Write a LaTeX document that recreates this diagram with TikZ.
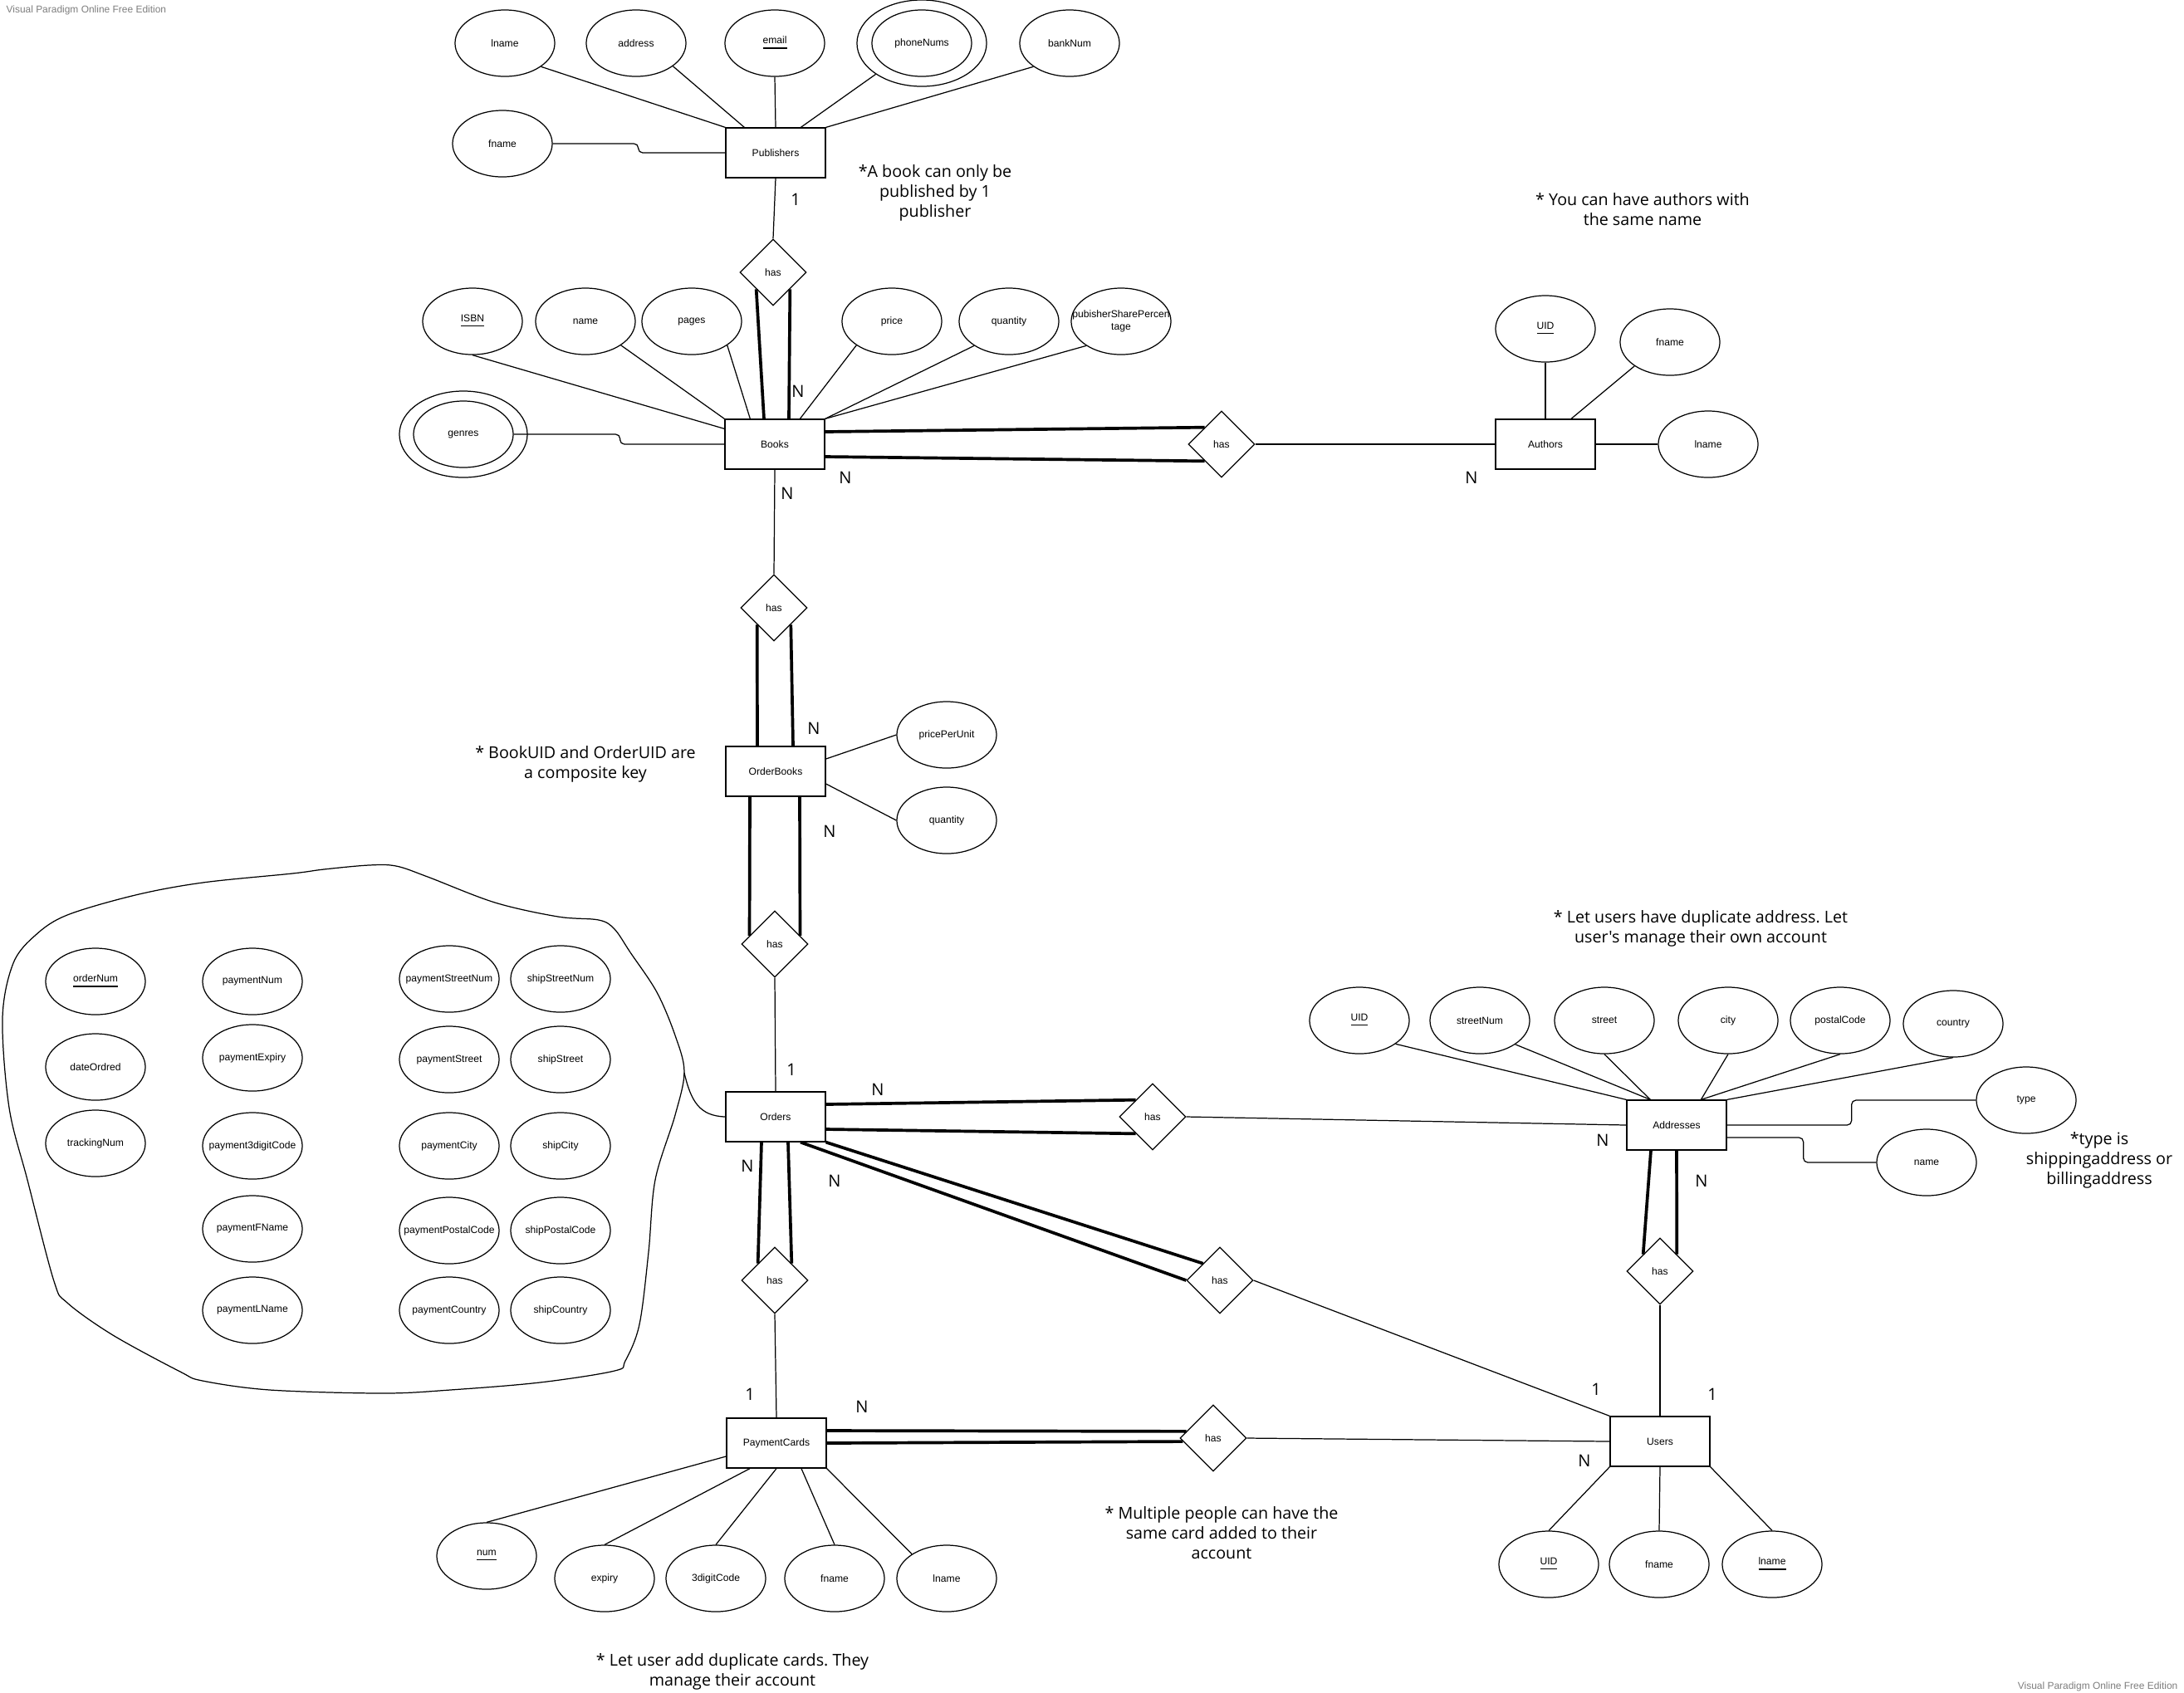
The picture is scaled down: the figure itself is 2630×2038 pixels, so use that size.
\documentclass[tikz,border=0pt]{standalone}
\usepackage{fontspec}
\setmainfont{Liberation Sans}
\newfontfamily\notefont{Open Sans}
\usetikzlibrary{shapes.geometric,calc}
\definecolor{wmgray}{HTML}{7F7F7F}
\frenchspacing
% keeps every attribute ellipse at its fixed size, whatever the label length
\newcommand{\fitlabel}[1]{\makebox[0pt]{#1}}

\begin{document}
\begin{tikzpicture}[x=0.01cm,y=-0.01cm,
  line width=0.35pt,
  lbl/.style={font=\fontsize{3.45}{4.2}\selectfont},
  entity/.style={draw,rectangle,minimum width=1.2cm,minimum height=0.6cm,inner sep=0pt,lbl},
  attr/.style={draw,ellipse,minimum width=1.2cm,minimum height=0.8cm,inner sep=0pt,lbl,align=center},
  multi/.style={draw,ellipse,minimum width=1.56cm,minimum height=1.04cm,inner sep=0pt},
  rel/.style={draw,diamond,minimum width=0.8cm,minimum height=0.8cm,inner sep=0pt,lbl},
  total/.style={line width=1.05pt},
  card/.style={font=\notefont\fontsize{5.7}{6.8}\selectfont,inner sep=0pt},
  note/.style={font=\notefont\fontsize{5.6}{6.8}\selectfont,align=center,inner sep=0pt},
  wm/.style={font=\fontsize{3.4}{4}\selectfont,text=wmgray,inner sep=0pt}
]
\useasboundingbox[fill=white] (0,0) rectangle (2630,2038);

% ---------- Publishers ----------
\node[entity] (pub) at (934,184) {Publishers};
\node[attr] (plname) at (608,52) {\fitlabel{lname}};
\node[attr] (paddr) at (766,52) {\fitlabel{address}};
\node[attr] (pemail) at (933,52) {\fitlabel{\underline{email}}};
\node[multi] (pphone) at (1110,52) {};
\node[attr] (pphonein) at (1110,52) {\fitlabel{phoneNums}};
\node[attr] (pbank) at (1288,52) {\fitlabel{bankNum}};
\node[attr] (pfname) at (605,173) {\fitlabel{fname}};

\draw (plname.-33) -- (pub.north west);
\draw (paddr.-32) -- ($(pub.north west)+(23,0)$);
\draw (pemail.south) -- (pub.north);
\draw (pphone.-146) -- ($(pub.north west)+(91,0)$);
\draw (pbank.-147) -- (pub.north east);
\draw[rounded corners=1.5pt] (pfname.east) -- ++(103,0) |- (pub.west);

% ---------- Books ----------
\node[rel] (has1) at (931,328) {has};
\node[entity] (books) at (933,535) {Books};
\node[attr] (isbn) at (569,387) {\fitlabel{\underline{ISBN}}};
\node[attr] (bname) at (705,387) {\fitlabel{name}};
\node[attr] (bpages) at (833,387) {\fitlabel{pages}};
\node[attr] (bprice) at (1074,387) {\fitlabel{price}};
\node[attr] (bqty) at (1215,387) {\fitlabel{quantity}};
\node[attr] (bshare) at (1350,387) {\fitlabel{\begin{tabular}{@{}c@{}}pubisherSharePercen\\tage\end{tabular}}};
\node[multi,minimum width=1.54cm] (bgenres) at (558,523) {};
\node[attr] (bgenresin) at (558,523) {\fitlabel{genres}};

\draw (pub.south) -- (has1.north);
\draw[total] (has1.south west) -- ($(books.north)+(-13,0)$);
\draw[total] (has1.south east) -- ($(books.north)+(17,0)$);

\draw (isbn.south) -- ($(books.north west)+(0,12)$);
\draw (bname.-34) -- (books.north west);
\draw (bpages.-34) -- ($(books.north west)+(31,0)$);
\draw (bprice.-146) -- ($(books.north west)+(91,0)$);
\draw (bqty.-145) -- (books.north east);
\draw (bshare.-145) -- (books.north east);
\draw[rounded corners=1.5pt] (bgenresin.east) -- ++(128,0) |- (books.west);

% ---------- Authors ----------
\node[rel] (has2) at (1471,535) {has};
\node[entity] (authors) at (1861,535) {Authors};
\node[attr] (auid) at (1861,396) {\fitlabel{\underline{UID}}};
\node[attr] (afname) at (2011,412) {\fitlabel{fname}};
\node[attr] (alname) at (2057,535) {\fitlabel{lname}};

\draw[total] ($(books.east)+(0,-15)$) -- (has2.north west);
\draw[total] ($(books.east)+(0,15)$) -- (has2.south west);
\draw (has2.east) -- (authors.west);
\draw (auid.south) -- (authors.north);
\draw (afname.-146) -- ($(authors.north)+(31,0)$);
\draw (authors.east) -- (alname.west);

% ---------- OrderBooks ----------
\node[rel] (has3) at (932,732) {has};
\node[entity] (ob) at (934,929) {OrderBooks};
\node[attr] (ppu) at (1140,885) {\fitlabel{pricePerUnit}};
\node[attr] (obqty) at (1140,988) {\fitlabel{quantity}};
\node[rel] (has4) at (933,1137) {has};

\draw (books.south) -- (has3.north);
\draw[total] (has3.south west) -- ($(ob.north)+(-22,0)$);
\draw[total] (has3.south east) -- ($(ob.north)+(21,0)$);
\draw (ppu.west) -- ($(ob.east)+(0,-15)$);
\draw (obqty.west) -- ($(ob.east)+(0,15)$);
\draw[total] ($(ob.south)+(-31,0)$) -- ($(has4.west)!0.25!(has4.north)$);
\draw[total] ($(ob.south)+(29,0)$) -- ($(has4.east)!0.25!(has4.north)$);

% ---------- Orders ----------
\node[entity] (orders) at (934,1345) {Orders};
\node[rel] (has5) at (1388,1345) {has};
\node[rel] (has6) at (1469,1542) {has};
\node[rel] (has7) at (933,1542) {has};

\draw (has4.south) -- (orders.north);
\draw[total] ($(orders.east)+(0,-15)$) -- (has5.north west);
\draw[total] ($(orders.east)+(0,15)$) -- (has5.south west);
\draw[total] (orders.south east) -- (has6.north west);
\draw[total] ($(orders.south)+(30,0)$) -- (has6.west);
\draw[total] ($(orders.south)+(-17,0)$) -- (has7.north west);
\draw[total] ($(orders.south)+(15,0)$) -- (has7.north east);

% grouped order attributes
\draw plot[smooth cycle, tension=0.55] coordinates {
  (444,1042) (477,1043) (515,1056) (596,1087) (672,1104) (721,1108)
  (740,1119) (759,1147) (791,1195) (813,1247) (824,1291) (813,1343)
  (789,1421) (781,1508) (770,1595) (753,1639) (740,1651) (650,1665)
  (542,1674) (461,1678) (325,1674) (244,1663) (217,1652) (136,1608)
  (81,1569) (65,1543) (33,1421) (11,1334) (3,1226) (16,1160)
  (43,1126) (81,1102) (163,1078) (244,1063) (352,1052) (390,1047)};
\coordinate (blobj) at (824,1292);
\draw (blobj) .. controls (832,1326) and (842,1344) .. (orders.west);

\node[attr] (onum) at (115,1182) {\fitlabel{\underline{orderNum}}};
\node[attr] (odate) at (115,1285) {\fitlabel{dateOrdred}};
\node[attr] (otrack) at (115,1377) {\fitlabel{trackingNum}};
\node[attr] (opnum) at (304,1182) {\fitlabel{paymentNum}};
\node[attr] (opexp) at (304,1274) {\fitlabel{paymentExpiry}};
\node[attr] (op3dc) at (304,1380) {\fitlabel{payment3digitCode}};
\node[attr] (opfn) at (304,1480) {\fitlabel{paymentFName}};
\node[attr] (opln) at (304,1578) {\fitlabel{paymentLName}};
\node[attr] (opsn) at (541,1179) {\fitlabel{paymentStreetNum}};
\node[attr] (opst) at (541,1276) {\fitlabel{paymentStreet}};
\node[attr] (opcity) at (541,1380) {\fitlabel{paymentCity}};
\node[attr] (oppc) at (541,1482) {\fitlabel{paymentPostalCode}};
\node[attr] (opco) at (541,1578) {\fitlabel{paymentCountry}};
\node[attr] (ossn) at (675,1179) {\fitlabel{shipStreetNum}};
\node[attr] (osst) at (675,1276) {\fitlabel{shipStreet}};
\node[attr] (oscity) at (675,1380) {\fitlabel{shipCity}};
\node[attr] (ospc) at (675,1482) {\fitlabel{shipPostalCode}};
\node[attr] (osco) at (675,1578) {\fitlabel{shipCountry}};

% ---------- Addresses ----------
\node[entity] (addr) at (2019,1355) {Addresses};
\node[attr] (aduid) at (1637,1229) {\fitlabel{\underline{UID}}};
\node[attr] (adsn) at (1782,1229) {\fitlabel{streetNum}};
\node[attr] (adst) at (1932,1229) {\fitlabel{street}};
\node[attr] (adcity) at (2081,1229) {\fitlabel{city}};
\node[attr] (adpc) at (2216,1229) {\fitlabel{postalCode}};
\node[attr] (adco) at (2352,1233) {\fitlabel{country}};
\node[attr] (adtype) at (2440,1325) {\fitlabel{type}};
\node[attr] (adname) at (2320,1400) {\fitlabel{name}};
\node[rel] (has8) at (1999,1531) {has};

\draw (has5.east) -- (addr.west);
\draw (aduid.-33) -- (addr.north west);
\draw (adsn.-34) -- ($(addr.north west)+(29,0)$);
\draw (adst.south) -- ($(addr.north west)+(29,0)$);
\draw (adcity.south) -- ($(addr.north west)+(90,0)$);
\draw (adpc.south) -- ($(addr.north west)+(90,0)$);
\draw (adco.south) -- (addr.north east);
\draw[rounded corners=1.5pt] (addr.east) -- ++(150,0) |- (adtype.west);
\draw[rounded corners=1.5pt] ($(addr.east)+(0,15)$) -- ++(92,0) |- (adname.west);
\draw[total] ($(addr.south)+(-31,0)$) -- (has8.north west);
\draw[total] (addr.south) -- (has8.north east);

% ---------- Users ----------
\node[entity] (users) at (1999,1736) {Users};
\node[attr] (uuid) at (1865,1884) {\fitlabel{\underline{UID}}};
\node[attr] (ufname) at (1998,1884) {\fitlabel{fname}};
\node[attr] (ulname) at (2134,1884) {\fitlabel{\underline{lname}}};

\draw (has8.south) -- (users.north);
\draw (has6.east) -- (users.north west);
\draw (uuid.north) -- (users.south west);
\draw (ufname.north) -- (users.south);
\draw (ulname.north) -- (users.south east);

% ---------- PaymentCards ----------
\node[entity] (pc) at (935,1738) {PaymentCards};
\node[rel] (has9) at (1461,1732) {has};
\node[attr] (cnum) at (586,1874) {\fitlabel{\underline{num}}};
\node[attr] (cexp) at (728,1901) {\fitlabel{expiry}};
\node[attr] (c3dc) at (862,1901) {\fitlabel{3digitCode}};
\node[attr] (cfname) at (1005,1901) {\fitlabel{fname}};
\node[attr] (clname) at (1140,1901) {\fitlabel{lname}};

\draw (has7.south) -- (pc.north);
\draw[total] ($(pc.east)+(0,-15)$) -- ($(has9.west)!0.2!(has9.north)$);
\draw[total] (pc.east) -- ($(has9.west)!0.1!(has9.south)$);
\draw (has9.east) -- (users.west);
\draw (cnum.north) -- ($(pc.west)+(0,16)$);
\draw (cexp.north) -- ($(pc.south)+(-32,0)$);
\draw (c3dc.north) -- (pc.south);
\draw (cfname.north) -- ($(pc.south)+(30,0)$);
\draw (clname.145) -- (pc.south east);

% ---------- cardinalities ----------
\node[card] (k1) at (958,240) {1};
\node[card] (k2) at (961,471) {N};
\node[card] (k3) at (1018,575) {N};
\node[card] (k4) at (1772,575) {N};
\node[card] (k5) at (948,594) {N};
\node[card] (k6) at (980,877) {N};
\node[card] (k7) at (999,1001) {N};
\node[card] (k8) at (953,1288) {1};
\node[card] (k9) at (1057,1312) {N};
\node[card] (k10) at (1930,1373) {N};
\node[card] (k11) at (2049,1422) {N};
\node[card] (k12) at (900,1404) {N};
\node[card] (k13) at (1005,1422) {N};
\node[card] (k14) at (903,1679) {1};
\node[card] (k15) at (1038,1694) {N};
\node[card] (k16) at (1922,1673) {1};
\node[card] (k17) at (2062,1679) {1};
\node[card] (k18) at (1908,1759) {N};

% ---------- notes ----------
\node[note] (n1) at (1126,232) {*A book can only be\\published by 1\\publisher};
\node[note] (n2) at (1978,252) {* You can have authors with\\the same name};
\node[note] (n3) at (705,920) {* BookUID and OrderUID are\\a composite key};
\node[note] (n4) at (2048,1118) {* Let users have duplicate address. Let\\user's manage their own account};
\node[note] (n5) at (2528,1397) {*type is\\shippingaddress or\\billingaddress};
\node[note] (n6) at (1471,1846) {* Multiple people can have the\\same card added to their\\account};
\node[note] (n7) at (882,2013) {* Let user add duplicate cards. They\\manage their account};

% ---------- editor marks ----------
\node[wm,anchor=west] (w1) at (7,12) {Visual Paradigm Online Free Edition};
\node[wm,anchor=east] (w2) at (2623,2031) {Visual Paradigm Online Free Edition};
\end{tikzpicture}
\end{document}
